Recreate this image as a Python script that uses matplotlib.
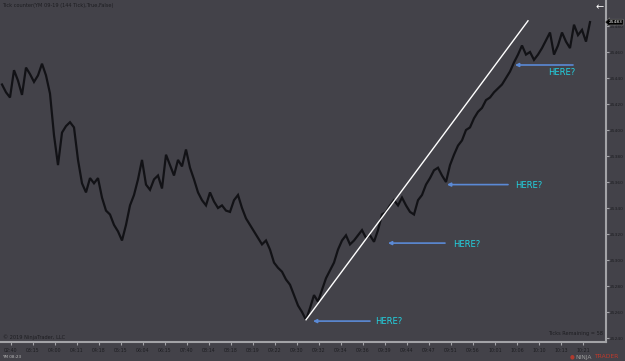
import numpy as np
import matplotlib
matplotlib.use("Agg")
import matplotlib.pyplot as plt

# ---------------- data ----------------
prices = [
    25435, 25429, 25425, 25446, 25438, 25427, 25448, 25443, 25437, 25442,
    25451, 25442, 25428, 25396, 25373, 25398, 25403, 25406, 25402, 25377,
    25359, 25352, 25363, 25359, 25363, 25348, 25338, 25335, 25327, 25322,
    25315, 25327, 25342, 25350, 25362, 25377, 25358, 25354, 25362, 25365,
    25355, 25381, 25373, 25365, 25377, 25372, 25385, 25371, 25362, 25352,
    25346, 25342, 25352, 25345, 25340, 25342, 25338, 25337, 25346, 25350,
    25340, 25332,
    25327, 25322, 25317, 25312, 25315, 25308, 25298, 25294, 25291, 25285,
    25281, 25273, 25265, 25260, 25254, 25263, 25273, 25268, 25277, 25286,
    25292, 25298, 25308, 25315, 25319, 25312, 25315, 25319, 25323, 25317,
    25319, 25314, 25323, 25335, 25337, 25342, 25346, 25342, 25348, 25342,
    25337, 25335, 25346, 25350, 25358, 25363, 25369, 25371, 25365, 25360,
    25373, 25381, 25388, 25392, 25400, 25402, 25409, 25414, 25417, 25423,
    25425, 25429, 25432, 25435, 25440, 25445, 25452, 25458, 25465, 25458,
    25460, 25454, 25458, 25463, 25469, 25475, 25458, 25465, 25475, 25468,
    25463, 25481, 25473, 25477, 25468, 25483,
]
time_labels = ["02:40", "03:15", "04:00", "04:11", "04:18", "05:15", "06:04",
               "06:15", "07:40", "08:14", "08:18", "08:19", "09:22", "09:30",
               "09:32", "09:34", "09:36", "09:39", "09:44", "09:47", "09:51",
               "09:56", "10:01", "10:06", "10:10", "10:13", "10:21"]
y_ticks = [25240, 25260, 25280, 25300, 25320, 25340, 25360, 25380, 25400,
           25420, 25440, 25460, 25480]
# trend line drawing (bar index, price)
trend_bars = [76.0, 131.5]
trend_prices = [25254, 25484]
# annotation arrows: tip bar, tip price, tail bar, text bar, text price
arrow_tip_bar = [77.75, 96.5, 111.25, 128.25]
arrow_tip_price = [25253, 25313, 25358, 25450]
arrow_tail_bar = [92.0, 110.75, 126.5, 142.75]
text_bar = [93.25, 112.75, 128.25, 136.5]
text_price = [25253, 25312, 25357, 25444]
last_price = 25483

# ---------------- style ----------------
BG = "#434249"
DARK = "#1d1d21"
AX = "#a3a3a7"

fig = plt.figure(figsize=(6.25, 3.61), dpi=100, facecolor=BG)
ax = fig.add_axes([0, 19 / 361, 606 / 625, 342 / 361], facecolor=BG)

bars = np.arange(len(prices))
ax.plot(bars, prices, color="#121216", lw=1.6, solid_joinstyle="miter")

ax.plot(trend_bars, trend_prices, color="white", lw=1.0)

for tb, tp, tail, xb, yp in zip(arrow_tip_bar, arrow_tip_price, arrow_tail_bar,
                                text_bar, text_price):
    ax.annotate("", xy=(tb, tp), xytext=(tail, tp),
                arrowprops=dict(arrowstyle="-|>", color="#5b8ad6", lw=1.2,
                                mutation_scale=5, shrinkA=0, shrinkB=0))
    ax.text(xb, yp, "HERE?", color="#22d3e2", fontsize=6, va="center",
            ha="left")

ymin = 25500 - 342 * 10 / 13
ax.set_xlim(-0.5, 151)
ax.set_ylim(ymin, 25500)

ax.set_xticks(2.25 + 5.5 * np.arange(len(time_labels)))
ax.set_xticklabels(time_labels)
ax.yaxis.tick_right()
ax.set_yticks(y_ticks)
ax.set_yticklabels([str(v) for v in y_ticks])
ax.tick_params(axis="x", labelsize=3.4, labelcolor=DARK, color=AX,
               length=2.5, width=0.8, pad=2)
ax.tick_params(axis="y", labelsize=3.2, labelcolor=DARK, color=AX,
               length=2, width=0.8, pad=0.6)

for s in ["top", "left"]:
    ax.spines[s].set_visible(False)
for s in ["bottom", "right"]:
    ax.spines[s].set_color(AX)
    ax.spines[s].set_linewidth(1.5)

# texts
fig.text(2 / 625, 1 - 5 / 361, "Tick counter(YM 09-19 (144 Tick),True,False)",
         fontsize=3.6, color=DARK, va="center", ha="left")
fig.text(3 / 625, 1 - 337 / 361, "\u00a9 2019 NinjaTrader, LLC",
         fontsize=3.6, color=DARK, va="center", ha="left")
fig.text(603 / 625, 1 - 334 / 361, "Ticks Remaining = 58",
         fontsize=3.6, color=DARK, va="center", ha="right")
fig.text(2 / 625, 1 - 357 / 361, "YM 08:23", fontsize=3, color="#bdbdbd",
         va="center", ha="left")
fig.text(600 / 625, 1 - 7 / 361, "\u2190", fontsize=7, color="white",
         va="center", ha="center")
ax.text(1.004, (last_price - ymin) / (25500 - ymin),
        str(last_price), transform=ax.transAxes, fontsize=3.2, color="white",
        va="center", ha="left",
        bbox=dict(boxstyle="larrow,pad=0.2", fc="black", ec="#888888", lw=0.4))
fig.text(575 / 625, 1 - 357 / 361, "NINJA", fontsize=4.3, color="#9a9a9a",
         va="center", ha="left")
fig.text(594 / 625, 1 - 357 / 361, "TRADER", fontsize=4.3, color="#c0392b",
         va="center", ha="left")
fig.text(570 / 625, 1 - 357 / 361, "\u25cf", fontsize=4, color="#b03a2e",
         va="center", ha="left")

fig.savefig("out.png", dpi=100, facecolor=BG)
